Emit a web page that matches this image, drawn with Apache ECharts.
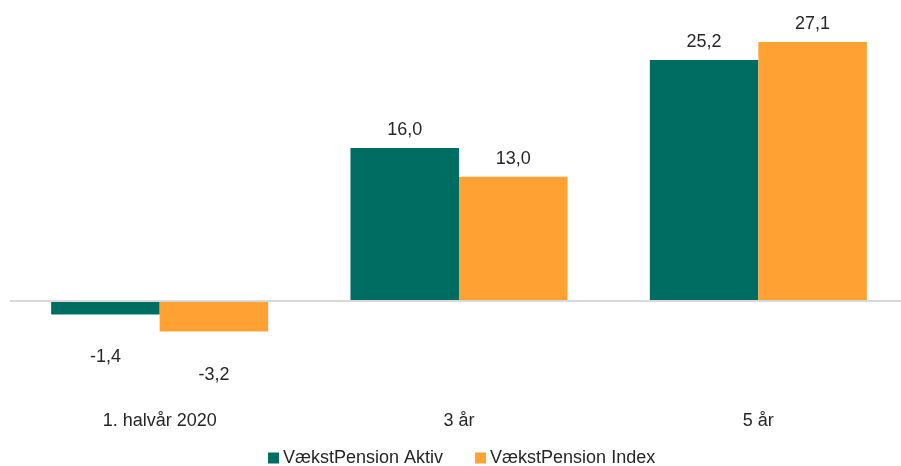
<!DOCTYPE html>
<html>
<head>
<meta charset="utf-8">
<script src="https://cdn.jsdelivr.net/npm/echarts@6/dist/echarts.min.js"></script>
<style>
  html, body { margin: 0; padding: 0; background: #fff; }
  #chart { width: 901px; height: 466px; }
</style>
</head>
<body>
<div id="chart"></div>
<script>
// afkast i procent
const categories = ['1. halvår 2020', '3 år', '5 år']
const aktivValues = [-1.4, 16.0, 25.2]
const indexValues = [-3.2, 13.0, 27.1]
const seriesNames = ['VækstPension Aktiv', 'VækstPension Index']

const textColor = '#262626'
const fmt = v => v.toFixed(1).replace('.', ',')

// negative søjler får label under søjlen
const withLabels = values => values.map(v => ({
  value: v,
  label: v < 0 ? { position: 'bottom', distance: 34 } : { position: 'top', distance: 9 }
}))

const chart = echarts.init(document.getElementById('chart'))

const option = {
  animation: false,
  textStyle: { fontFamily: 'Liberation Sans, Arial, sans-serif' },
  grid: {
    left: 10,
    width: 898,
    top: 14.2,
    height: 382.4,
    outerBoundsMode: 'none'
  },
  legend: {
    data: seriesNames,
    top: 449,
    left: 268,
    padding: 0,
    icon: 'rect',
    itemWidth: 11,
    itemHeight: 11,
    itemGap: 32,
    textStyle: { fontSize: 18, color: textColor, padding: [0, 0, 0, -1] }
  },
  xAxis: {
    type: 'category',
    data: categories,
    position: 'bottom',
    axisLine: { show: false, onZero: false },
    axisTick: { show: false },
    axisLabel: {
      margin: 15,
      fontSize: 18,
      color: textColor
    }
  },
  yAxis: {
    type: 'value',
    min: -10,
    max: 30,
    show: false,
    splitLine: { show: false }
  },
  series: [
    {
      name: seriesNames[0],
      type: 'bar',
      data: withLabels(aktivValues),
      barGap: '0%',
      barCategoryGap: '27.5%',
      itemStyle: { color: '#006D62' },
      label: {
        show: true,
        fontSize: 18,
        color: textColor,
        formatter: p => fmt(p.value)
      },
      markLine: {
        silent: true,
        symbol: 'none',
        label: { show: false },
        lineStyle: { color: '#d9d9d9', width: 2, type: 'solid' },
        data: [{ yAxis: 0 }]
      }
    },
    {
      name: seriesNames[1],
      type: 'bar',
      data: withLabels(indexValues),
      barGap: '0%',
      barCategoryGap: '27.5%',
      itemStyle: { color: '#FFA133' },
      label: {
        show: true,
        fontSize: 18,
        color: textColor,
        formatter: p => fmt(p.value)
      }
    }
  ]
}

chart.setOption(option)
</script>
</body>
</html>
